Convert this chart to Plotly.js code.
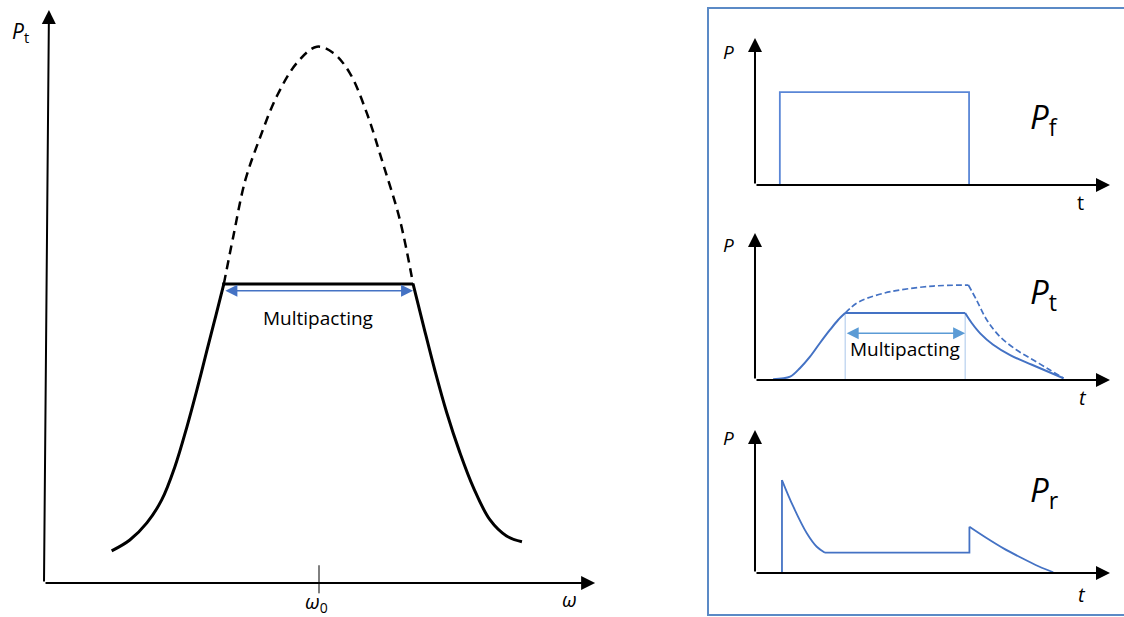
<!DOCTYPE html>
<html>
<head>
<meta charset="utf-8">
<script src="https://cdn.plot.ly/plotly-3.0.1.min.js"></script>
<style>html,body{margin:0;padding:0;background:#fff;}#chart{width:1124px;height:617px;}</style>
</head>
<body>
<div id="chart"></div>
<script>
// ---------- Left panel: transmitted power vs frequency ----------
const omegaRiseSolid = [1.23, 1.56, 1.87, 2.14, 2.38, 2.60, 2.78, 2.96, 3.12, 3.27];
const ptRiseSolid    = [0.56, 0.75, 1.05, 1.45, 2.03, 2.73, 3.37, 4.05, 4.65, 5.22];
const omegaFallSolid = [6.71, 6.91, 7.11, 7.32, 7.56, 7.81, 8.11, 8.41, 8.69];
const ptFallSolid    = [5.22, 4.45, 3.70, 2.98, 2.28, 1.66, 1.10, 0.82, 0.72];
const omegaDashed = [3.27, 3.44, 3.66, 3.93, 4.23, 4.60, 4.96, 5.26, 5.56, 5.87, 6.16, 6.47, 6.71];
const ptDashed    = [5.22, 6.04, 7.03, 7.78, 8.49, 9.08, 9.36, 9.25, 8.90, 8.20, 7.33, 6.34, 5.22];
const omegaThreshold = [3.24, 6.71];
const ptThreshold = 5.22;
const omegaZero = 5.0;
const leftLabels = {pt: "<i>P</i><sub>t</sub>", w0: "<i>ω</i><sub>0</sub>", w: "<i>ω</i>", mp: "Multipacting"};

// ---------- Right panels: power vs time ----------
// Forward power Pf
const tPf = [0.70, 0.70, 6.03, 6.03];
const pPf = [0.00, 6.41, 6.41, 0.00];
// Transmitted power Pt
const tPtRise = [0.51, 0.99, 1.27, 1.55, 1.83, 2.11, 2.34, 2.54];
const pPtRise = [0.05, 0.23, 0.83, 1.61, 2.55, 3.45, 4.14, 4.62];
const tPtFlat = [2.54, 5.92];
const pPtFlat = [4.62, 4.62];
const tPtFall = [5.92, 6.10, 6.35, 6.70, 7.20, 7.80, 8.69];
const pPtFall = [4.62, 3.95, 3.20, 2.45, 1.70, 1.05, 0.12];
const tPtDashRise = [2.54, 2.86, 3.15, 3.62, 4.09, 5.02, 6.01];
const pPtDashRise = [4.62, 5.29, 5.63, 5.98, 6.21, 6.48, 6.55];
const tPtDashFall = [6.01, 6.24, 6.53, 6.90, 7.37, 7.84, 8.31, 8.69];
const pPtDashFall = [6.55, 5.52, 4.14, 2.99, 2.07, 1.38, 0.69, 0.12];
// Reflected power Pr
const tPrJump1 = [0.76, 0.76];
const pPrJump1 = [0.00, 6.41];
const tPrDecay1 = [0.76, 1.08, 1.46, 1.74, 1.97];
const pPrDecay1 = [6.41, 4.57, 2.74, 1.81, 1.40];
const tPrFlat = [1.97, 6.04, 6.04];
const pPrFlat = [1.40, 1.40, 3.19];
const tPrDecay2 = [6.04, 6.50, 7.00, 7.50, 8.00, 8.40];
const pPrDecay2 = [3.19, 2.45, 1.70, 1.05, 0.45, 0.05];
const mpStart = 2.54, mpEnd = 5.92, mpArrowP = 3.22;
const rightLabels = {f: "<i>P</i><sub>f</sub>", t: "<i>P</i><sub>t</sub>", r: "<i>P</i><sub>r</sub>"};

const BLUE = "#4472c4";
const LIGHTBLUE = "#5b9bd5";
const FONT = "Open Sans, Noto Sans, sans-serif";

function line(x, y, xa, ya, opts) {
  return Object.assign({
    x: x, y: y, xaxis: xa, yaxis: ya, type: "scatter", mode: "lines",
    hoverinfo: "skip", cliponaxis: false
  }, opts);
}

const traces = [
  line(omegaRiseSolid, ptRiseSolid, "x", "y", {line: {color: "#000", width: 3, shape: "spline", smoothing: 1}}),
  line(omegaFallSolid, ptFallSolid, "x", "y", {line: {color: "#000", width: 3, shape: "spline", smoothing: 1}}),
  line(omegaDashed, ptDashed, "x", "y", {line: {color: "#000", width: 2.5, dash: "9px,6px", shape: "spline", smoothing: 1}}),
  line(omegaThreshold, [ptThreshold, ptThreshold], "x", "y", {line: {color: "#000", width: 3}}),
  line([omegaZero, omegaZero], [0.31, -0.18], "x", "y", {line: {color: "#000", width: 1}}),

  line(tPf, pPf, "x2", "y2", {line: {color: "#5a86d6", width: 1.8}}),

  line([mpStart, mpStart], [pPtFlat[0], 0], "x3", "y3", {line: {color: "#a9c6ea", width: 1}}),
  line([mpEnd, mpEnd], [pPtFlat[0], 0], "x3", "y3", {line: {color: "#a9c6ea", width: 1}}),
  line(tPtRise, pPtRise, "x3", "y3", {line: {color: BLUE, width: 2, shape: "spline", smoothing: 0.9}}),
  line(tPtFlat, pPtFlat, "x3", "y3", {line: {color: BLUE, width: 2.2}}),
  line(tPtFall, pPtFall, "x3", "y3", {line: {color: BLUE, width: 2, shape: "spline", smoothing: 1}}),
  line(tPtDashRise, pPtDashRise, "x3", "y3", {line: {color: BLUE, width: 1.7, dash: "6px,3px", shape: "spline", smoothing: 1}}),
  line(tPtDashFall, pPtDashFall, "x3", "y3", {line: {color: BLUE, width: 1.7, dash: "6px,3px", shape: "spline", smoothing: 1}}),

  line(tPrJump1, pPrJump1, "x4", "y4", {line: {color: BLUE, width: 1.8}}),
  line(tPrDecay1, pPrDecay1, "x4", "y4", {line: {color: BLUE, width: 1.8, shape: "spline", smoothing: 1}}),
  line(tPrFlat, pPrFlat, "x4", "y4", {line: {color: BLUE, width: 1.8}}),
  line(tPrDecay2, pPrDecay2, "x4", "y4", {line: {color: BLUE, width: 1.8, shape: "spline", smoothing: 1}})
];

function arrow(xa, ya, x0, y0, x1, y1, color, width, size, both) {
  return {
    xref: xa, yref: ya, axref: xa, ayref: ya,
    x: x1, y: y1, ax: x0, ay: y0, text: "", showarrow: true,
    arrowhead: 2, startarrowhead: 2, arrowsize: size, startarrowsize: size,
    arrowwidth: width, arrowcolor: color, arrowside: both ? "end+start" : "end",
    standoff: 0, startstandoff: 0
  };
}
function label(xa, ya, x, y, text, size, extra) {
  return Object.assign({
    xref: xa, yref: ya, x: x, y: y, text: text, showarrow: false,
    font: {family: FONT, size: size, color: "#000"}, xanchor: "center", yanchor: "middle"
  }, extra || {});
}

const annotations = [
  // left axes
  arrow("x", "y", 0, 0, 0.09, 10.0, "#000", 2, 1.4, false),
  arrow("x", "y", 0, 0, 10.02, 0, "#000", 2, 1.4, false),
  arrow("x", "y", omegaThreshold[0] + 0.03, ptThreshold - 0.12, omegaThreshold[1], ptThreshold - 0.12, BLUE, 1.5, 1.6, true),
  label("x", "y", -0.42, 9.62, leftLabels.pt, 21),
  label("x", "y", 4.96, -0.34, leftLabels.w0, 20),
  label("x", "y", 9.56, -0.28, leftLabels.w, 20),
  label("x", "y", 4.98, 4.62, leftLabels.mp, 19),

  // right axes
  arrow("x2", "y2", 0, 0, 0, 10.14, "#000", 2, 1.4, false),
  arrow("x2", "y2", 0, 0, 10.0, 0, "#000", 2, 1.4, false),
  arrow("x3", "y3", 0, 0, 0, 10.14, "#000", 2, 1.4, false),
  arrow("x3", "y3", 0, 0, 10.0, 0, "#000", 2, 1.4, false),
  arrow("x4", "y4", 0, 0, 0, 9.86, "#000", 2, 1.4, false),
  arrow("x4", "y4", 0, 0, 10.0, 0, "#000", 2, 1.4, false),
  arrow("x3", "y3", mpStart, mpArrowP, mpEnd, mpArrowP, LIGHTBLUE, 1.5, 1.6, true),

  label("x2", "y2", -0.76, 9.17, "<i>P</i>", 19),
  label("x3", "y3", -0.76, 9.31, "<i>P</i>", 19),
  label("x4", "y4", -0.76, 9.31, "<i>P</i>", 19),
  label("x2", "y2", 9.18, -1.2, "t", 20),
  label("x3", "y3", 9.24, -1.24, "<i>t</i>", 20),
  label("x4", "y4", 9.21, -1.45, "<i>t</i>", 20),
  label("x2", "y2", 7.7, 4.6, rightLabels.f, 33, {xanchor: "left"}),
  label("x3", "y3", 7.7, 5.95, rightLabels.t, 33, {xanchor: "left"}),
  label("x4", "y4", 7.7, 5.6, rightLabels.r, 33, {xanchor: "left"}),
  label("x3", "y3", 4.23, 2.14, leftLabels.mp, 19)
];

function ax(domain, range) {
  return {domain: domain, range: range, visible: false, fixedrange: true, showgrid: false, zeroline: false};
}

const layout = {
  width: 1124, height: 617,
  margin: {l: 0, r: 0, t: 0, b: 0},
  paper_bgcolor: "#fff", plot_bgcolor: "rgba(0,0,0,0)",
  showlegend: false,
  font: {family: FONT},
  xaxis: ax([0.01468, 0.53826], [-0.5, 10.2]),
  yaxis: ax([0.00866, 0.99303], [-0.5, 10.1]),
  xaxis2: Object.assign(ax([0.64012, 0.99702], [-1, 10.3]), {anchor: "y2"}),
  yaxis2: Object.assign(ax([0.66491, 0.94692], [-1.5, 10.5]), {anchor: "x2"}),
  xaxis3: Object.assign(ax([0.64012, 0.99702], [-1, 10.3]), {anchor: "y3"}),
  yaxis3: Object.assign(ax([0.34887, 0.63088], [-1.5, 10.5]), {anchor: "x3"}),
  xaxis4: Object.assign(ax([0.64012, 0.99702], [-1, 10.3]), {anchor: "y4"}),
  yaxis4: Object.assign(ax([0.03606, 0.31807], [-1.5, 10.5]), {anchor: "x4"}),
  shapes: [{
    type: "rect", xref: "paper", yref: "paper",
    x0: 0.6299, x1: 1.01, y0: 0.0032, y1: 0.987,
    line: {color: "#5b8ac6", width: 2}, fillcolor: "rgba(0,0,0,0)"
  }],
  annotations: annotations
};

Plotly.newPlot("chart", traces, layout, {staticPlot: true, displayModeBar: false});
</script>
</body>
</html>
